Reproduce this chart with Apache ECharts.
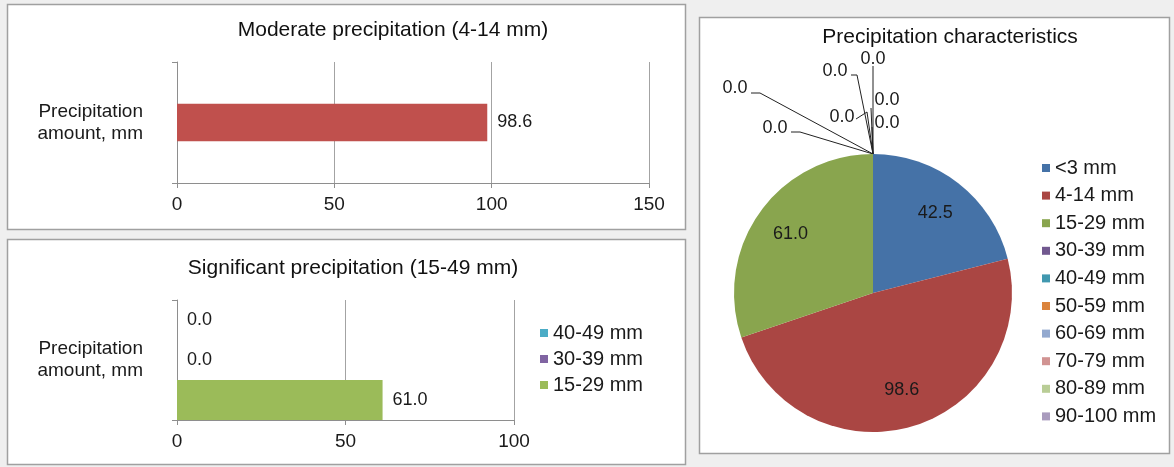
<!DOCTYPE html>
<html>
<head>
<meta charset="utf-8">
<script src="https://cdn.jsdelivr.net/npm/echarts@6/dist/echarts.min.js"></script>
<style>
  html, body { margin: 0; padding: 0; background: #efefef; }
  #chart { width: 1174px; height: 467px; }
</style>
</head>
<body>
<div id="chart"></div>
<script>
// ---- data ----
const categoryLabel = ['Precipitation\namount, mm'];

const moderateTicks = [0, 50, 100, 150];
const moderateValues = [98.6];

const significantTicks = [0, 50, 100];
const significantNames = ['40-49 mm', '30-39 mm', '15-29 mm'];
const significantValues = [0.0, 0.0, 61.0];

const pieNames = ['<3 mm', '4-14 mm', '15-29 mm', '30-39 mm', '40-49 mm',
                  '50-59 mm', '60-69 mm', '70-79 mm', '80-89 mm', '90-100 mm'];
const pieValues = [42.5, 98.6, 61.0, 0.0, 0.0, 0.0, 0.0, 0.0, 0.0, 0.0];

// ---- styling ----
const FONT = '"Liberation Sans", Arial, Helvetica, sans-serif';
const INK = '#1a1a1a';
const AXIS_GRAY = '#8e8e8e';
const GRID_GRAY = '#a3a3a3';
const moderateColor = '#c0504d';
const significantColors = ['#4bacc6', '#8064a2', '#9bbb59'];
const pieColors = ['#4572a7', '#aa4643', '#89a54e', '#71588f', '#4198af',
                   '#db843d', '#93a9cf', '#d19392', '#b9cd96', '#a99bbd'];

const PIE = { cx: 873, cy: 293, r: 139 };
// leader-line layout for the zero slices, as offsets from the pie's top point:
// [labelX, labelY, elbowX, elbowY, endX, endY]
const zeroLabelSpots = [
  [14, -31, -1, -27, -1, -27],
  [14, -54, -2, -46, -2, -46],
  [0, -95, 0, -88, 0, -88],
  [-38, -83, -16, -79, -22, -79],
  [-138, -66, -113, -61, -122, -61],
  [-98, -26, -73, -22, -82, -22],
  [-31, -37, -6, -42, -17, -35]
];

const fmt1 = p => Number(p.value).toFixed(1);

function valueAxis(gridIndex, ticks) {
  return {
    type: 'value', gridIndex,
    min: ticks[0], max: ticks[ticks.length - 1], interval: ticks[1] - ticks[0],
    axisLine: { show: true, lineStyle: { color: AXIS_GRAY, width: 1 } },
    axisTick: { show: true, length: 5, lineStyle: { color: AXIS_GRAY } },
    splitLine: { show: true, lineStyle: { color: GRID_GRAY, width: 1 } },
    axisLabel: { fontSize: 19, color: INK, fontFamily: FONT, margin: 12 }
  };
}
function categoryAxis(gridIndex) {
  return {
    type: 'category', gridIndex, data: categoryLabel,
    axisLine: { show: true, lineStyle: { color: AXIS_GRAY, width: 1 } },
    axisTick: { show: true, length: 5, lineStyle: { color: AXIS_GRAY } },
    splitLine: { show: false },
    axisLabel: { fontSize: 19, lineHeight: 22, color: INK, fontFamily: FONT, margin: 34 }
  };
}
const barLabel = {
  show: true, position: 'right', distance: 10,
  fontSize: 18, color: INK, fontFamily: FONT, formatter: fmt1
};

const panel = (x, y, w, h) => ({
  type: 'rect', z: -10, silent: true,
  shape: { x, y, width: w, height: h },
  style: { fill: '#ffffff', stroke: '#a0a0a0', lineWidth: 1.5 }
});

const titleStyle = { fontSize: 21, fontWeight: 'normal', color: '#111', fontFamily: FONT };

const chart = echarts.init(document.getElementById('chart'), null, { renderer: 'canvas' });
chart.setOption({
  animation: false,
  backgroundColor: '#efefef',
  textStyle: { fontFamily: FONT },
  graphic: {
    elements: [
      panel(7.5, 4.5, 678, 225),
      panel(7.5, 239.5, 678, 225),
      panel(699.5, 17.5, 470, 436)
    ]
  },
  title: [
    { text: 'Moderate precipitation (4-14 mm)', left: 393, top: 30, padding: 0,
      textAlign: 'center', textVerticalAlign: 'middle', textStyle: titleStyle },
    { text: 'Significant precipitation (15-49 mm)', left: 353, top: 268, padding: 0,
      textAlign: 'center', textVerticalAlign: 'middle', textStyle: titleStyle },
    { text: 'Precipitation characteristics', left: 950, top: 37, padding: 0,
      textAlign: 'center', textVerticalAlign: 'middle', textStyle: titleStyle }
  ],
  legend: [
    {
      data: significantNames, orient: 'vertical', left: 540, top: 323, padding: 0,
      icon: 'rect', itemWidth: 8, itemHeight: 8, itemGap: 6, selectedMode: false,
      textStyle: { fontSize: 20, lineHeight: 19, color: INK, fontFamily: FONT }
    },
    {
      data: pieNames.map((name, i) => ({ name, itemStyle: { color: pieColors[i] } })),
      orient: 'vertical', left: 1042, top: 158, padding: 0,
      icon: 'rect', itemWidth: 8, itemHeight: 8, itemGap: 7.6, selectedMode: false,
      textStyle: { fontSize: 20, lineHeight: 20, color: INK, fontFamily: FONT }
    }
  ],
  grid: [
    { left: 177, top: 62, width: 472, height: 121 },
    { left: 177, top: 300, width: 337, height: 120 }
  ],
  xAxis: [valueAxis(0, moderateTicks), valueAxis(1, significantTicks)],
  yAxis: [categoryAxis(0), categoryAxis(1)],
  series: [
    {
      type: 'bar', name: 'Moderate precipitation', xAxisIndex: 0, yAxisIndex: 0,
      data: moderateValues, barCategoryGap: '69%',
      itemStyle: { color: moderateColor }, label: barLabel
    },
    ...significantNames.map((name, i) => ({
      type: 'bar', name, xAxisIndex: 1, yAxisIndex: 1,
      data: [significantValues[i]], barGap: '0%', barCategoryGap: '0%',
      itemStyle: { color: significantColors[i] }, label: barLabel
    })),
    {
      type: 'pie', name: 'Precipitation characteristics',
      center: [PIE.cx, PIE.cy], radius: PIE.r,
      startAngle: 90, clockwise: true, avoidLabelOverlap: false,
      emphasis: { disabled: true },
      label: { show: true, fontSize: 18, color: INK, fontFamily: FONT, formatter: fmt1 },
      labelLine: { show: false, length: 10, length2: 10, lineStyle: { color: '#222', width: 1 } },
      data: pieNames.map((name, i) => ({
        name, value: pieValues[i],
        itemStyle: { color: pieColors[i] },
        label: { position: pieValues[i] > 0 ? 'inside' : 'outside' },
        labelLine: { show: pieValues[i] === 0 }
      })),
      labelLayout: function (params) {
        const i = params.dataIndex;
        if (pieValues[i] > 0) {
          // push the inner labels further out toward the rim
          const r = params.labelRect;
          const lx = r.x + r.width / 2, ly = r.y + r.height / 2;
          return {
            x: PIE.cx + (lx - PIE.cx) * 1.4,
            y: PIE.cy + (ly - PIE.cy) * 1.4,
            align: 'center', verticalAlign: 'middle'
          };
        }
        const k = pieValues.slice(0, i).filter(v => v === 0).length;
        const s = zeroLabelSpots[k % zeroLabelSpots.length];
        const tx = PIE.cx, ty = PIE.cy - PIE.r;
        return {
          x: tx + s[0], y: ty + s[1], align: 'center', verticalAlign: 'middle',
          labelLinePoints: [[tx, ty], [tx + s[2], ty + s[3]], [tx + s[4], ty + s[5]]]
        };
      }
    }
  ]
});
</script>
</body>
</html>
